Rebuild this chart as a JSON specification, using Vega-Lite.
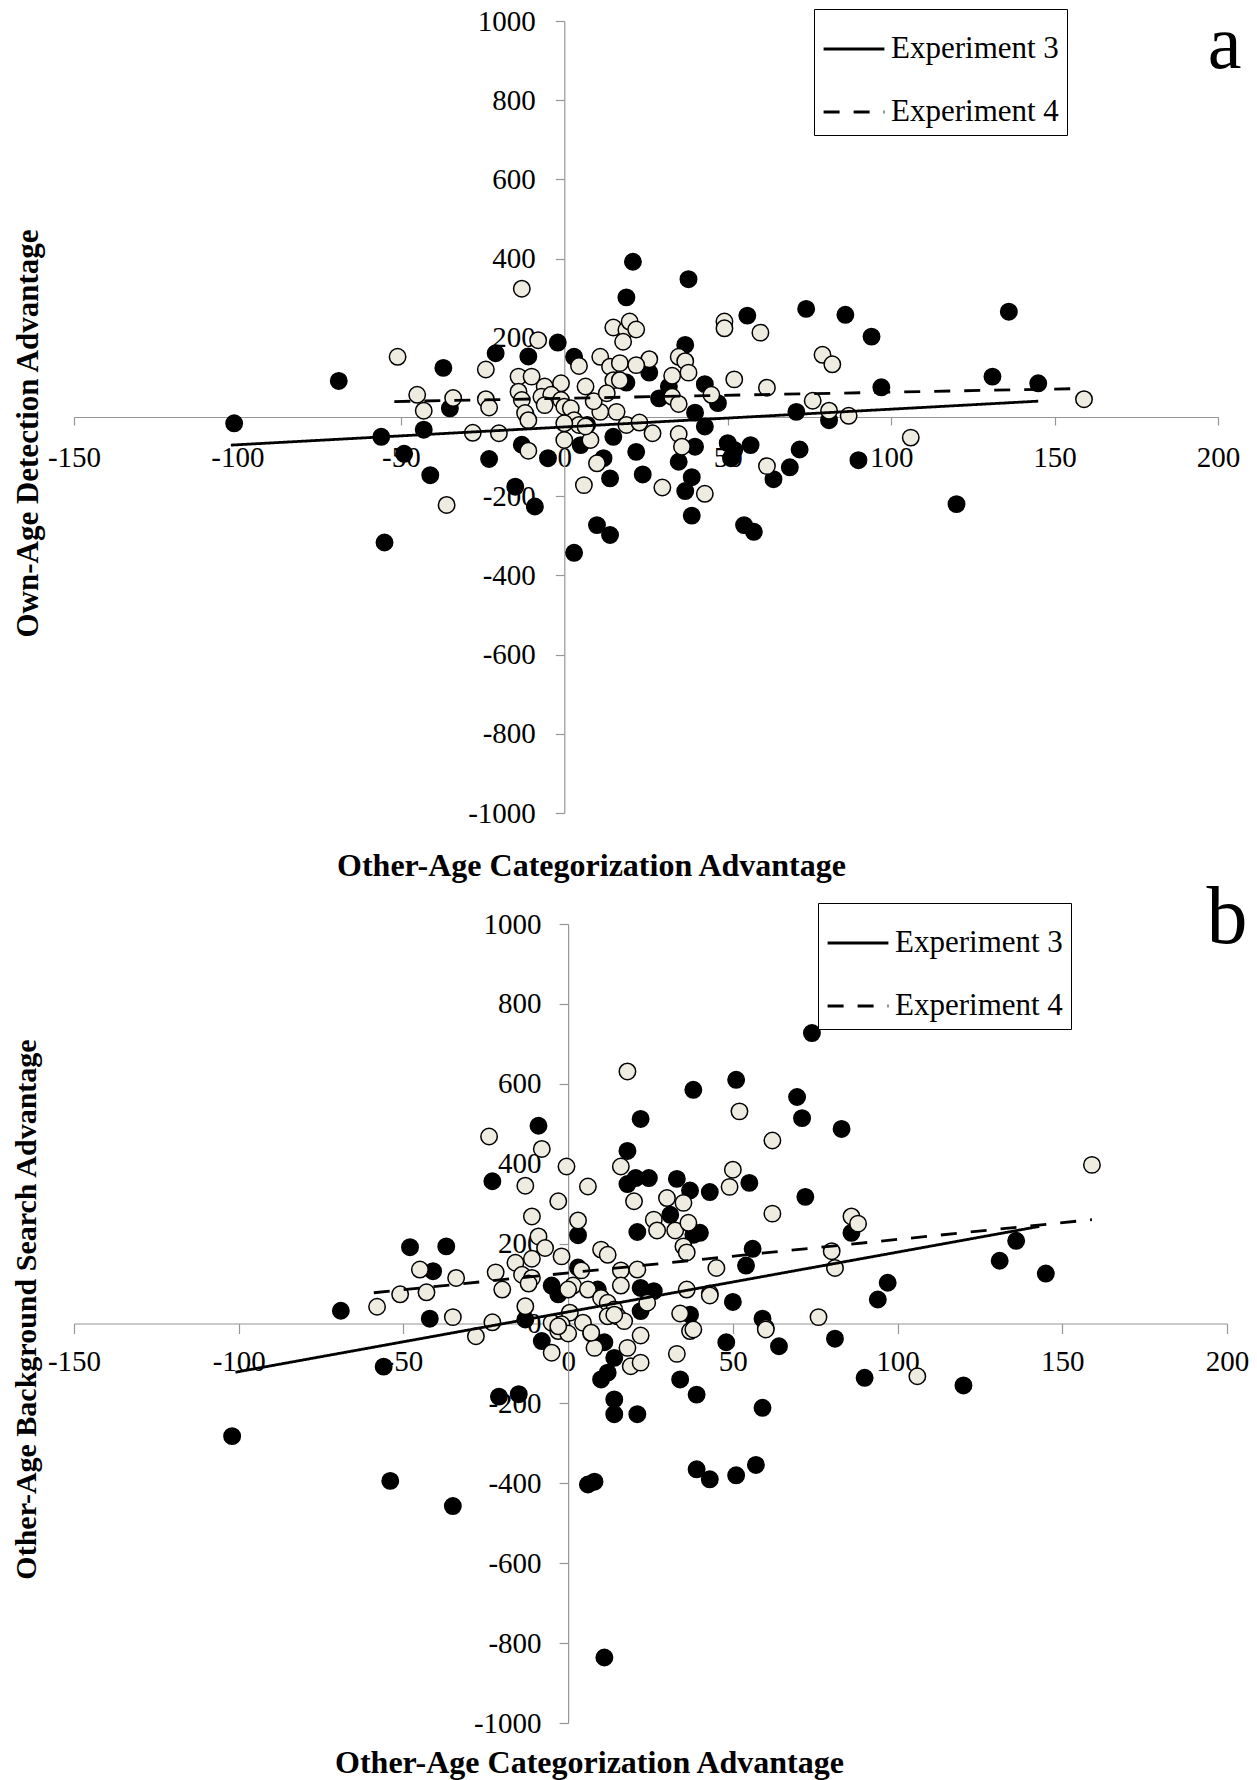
{
  "$schema": "https://vega.github.io/schema/vega-lite/v6.json",
  "autosize": "none",
  "padding": {"left": 74, "top": 21, "right": 1183, "bottom": 1759},
  "background": "white",
  "bounds": "flush",
  "spacing": 111,
  "resolve": {"scale": {"strokeDash": "independent"}, "legend": {"strokeDash": "independent"}},
  "config": {
    "view": {"stroke": null},
    "font": "Liberation Serif",
    "axis": {
      "grid": false,
      "domainColor": "#969696",
      "tickColor": "#969696",
      "domainWidth": 1.2,
      "tickWidth": 1.2,
      "labelColor": "black",
      "titleColor": "black",
      "labelFont": "Liberation Serif",
      "titleFont": "Liberation Serif",
      "labelFontSize": 29,
      "titleFontSize": 32,
      "titleFontWeight": "bold",
      "labelOverlap": false,
      "labelFlush": false,
      "labelExpr": "'' + datum.value"
    },
    "legend": {
      "orient": "none",
      "title": null,
      "labelFont": "Liberation Serif",
      "labelFontSize": 31,
      "labelColor": "black",
      "labelOffset": 5,
      "labelLimit": 0,
      "symbolType": "stroke",
      "symbolSize": 3700,
      "symbolStrokeWidth": 3,
      "symbolStrokeColor": "black",
      "strokeColor": "black",
      "fillColor": "white",
      "padding": 8,
      "rowPadding": 16
    }
  },
  "datasets": {
    "pointsA": [
      {"e":3,"x":-101,"y":-16},{"e":3,"x":-69,"y":91},{"e":3,"x":-37,"y":124},{"e":3,"x":-21,"y":161},{"e":3,"x":-11,"y":153},{"e":3,"x":-2,"y":188},{"e":3,"x":-35,"y":22},{"e":3,"x":-56,"y":-50},{"e":3,"x":-43,"y":-32},{"e":3,"x":-13,"y":-70},{"e":3,"x":-5,"y":-104},{"e":3,"x":-23,"y":-106},{"e":3,"x":-49,"y":-93},{"e":3,"x":-41,"y":-147},{"e":3,"x":-15,"y":-176},{"e":3,"x":-9,"y":-226},{"e":3,"x":-55,"y":-317},{"e":3,"x":3,"y":-343},{"e":3,"x":10,"y":-273},{"e":3,"x":14,"y":-298},{"e":3,"x":5,"y":-71},{"e":3,"x":14,"y":-155},{"e":3,"x":12,"y":-104},{"e":3,"x":3,"y":152},{"e":3,"x":19,"y":302},{"e":3,"x":21,"y":392},{"e":3,"x":38,"y":348},{"e":3,"x":56,"y":256},{"e":3,"x":74,"y":273},{"e":3,"x":86,"y":258},{"e":3,"x":94,"y":203},{"e":3,"x":37,"y":182},{"e":3,"x":26,"y":112},{"e":3,"x":19,"y":87},{"e":3,"x":32,"y":77},{"e":3,"x":29,"y":47},{"e":3,"x":43,"y":83},{"e":3,"x":47,"y":35},{"e":3,"x":71,"y":13},{"e":3,"x":81,"y":-8},{"e":3,"x":97,"y":75},{"e":3,"x":90,"y":-109},{"e":3,"x":40,"y":11},{"e":3,"x":43,"y":-24},{"e":3,"x":22,"y":-88},{"e":3,"x":24,"y":-145},{"e":3,"x":37,"y":-187},{"e":3,"x":39,"y":-152},{"e":3,"x":39,"y":-249},{"e":3,"x":40,"y":-75},{"e":3,"x":35,"y":-113},{"e":3,"x":50,"y":-66},{"e":3,"x":52,"y":-83},{"e":3,"x":57,"y":-71},{"e":3,"x":51,"y":-104},{"e":3,"x":64,"y":-157},{"e":3,"x":69,"y":-127},{"e":3,"x":72,"y":-82},{"e":3,"x":55,"y":-273},{"e":3,"x":58,"y":-290},{"e":3,"x":136,"y":266},{"e":3,"x":131,"y":102},{"e":3,"x":145,"y":85},{"e":3,"x":120,"y":-220},{"e":3,"x":15,"y":-50},{"e":3,"x":7,"y":-20},
      {"e":4,"x":-51,"y":152},{"e":4,"x":-24,"y":120},{"e":4,"x":-13,"y":324},{"e":4,"x":-8,"y":194},{"e":4,"x":-45,"y":56},{"e":4,"x":-43,"y":16},{"e":4,"x":-34,"y":48},{"e":4,"x":-24,"y":45},{"e":4,"x":-23,"y":24},{"e":4,"x":-28,"y":-40},{"e":4,"x":-20,"y":-41},{"e":4,"x":-11,"y":-85},{"e":4,"x":-36,"y":-222},{"e":4,"x":6,"y":-172},{"e":4,"x":0,"y":-58},{"e":4,"x":8,"y":-58},{"e":4,"x":10,"y":-117},{"e":4,"x":-14,"y":102},{"e":4,"x":-10,"y":102},{"e":4,"x":-14,"y":64},{"e":4,"x":-13,"y":43},{"e":4,"x":-12,"y":10},{"e":4,"x":-11,"y":-8},{"e":4,"x":-6,"y":77},{"e":4,"x":-1,"y":85},{"e":4,"x":-7,"y":51},{"e":4,"x":-4,"y":56},{"e":4,"x":-6,"y":30},{"e":4,"x":-1,"y":43},{"e":4,"x":0,"y":26},{"e":4,"x":2,"y":22},{"e":4,"x":3,"y":-8},{"e":4,"x":4.5,"y":-20},{"e":4,"x":6.5,"y":-24},{"e":4,"x":0,"y":-16},{"e":4,"x":4.5,"y":129},{"e":4,"x":6.5,"y":77},{"e":4,"x":11,"y":152},{"e":4,"x":15,"y":226},{"e":4,"x":19,"y":220},{"e":4,"x":18,"y":190},{"e":4,"x":14,"y":127},{"e":4,"x":17,"y":136},{"e":4,"x":15,"y":93},{"e":4,"x":17,"y":93},{"e":4,"x":16,"y":13},{"e":4,"x":11,"y":13},{"e":4,"x":19,"y":-20},{"e":4,"x":20,"y":241},{"e":4,"x":22,"y":221},{"e":4,"x":49,"y":241},{"e":4,"x":49,"y":224},{"e":4,"x":60,"y":213},{"e":4,"x":79,"y":157},{"e":4,"x":82,"y":133},{"e":4,"x":35,"y":152},{"e":4,"x":37,"y":141},{"e":4,"x":38,"y":112},{"e":4,"x":26,"y":146},{"e":4,"x":22,"y":131},{"e":4,"x":33,"y":104},{"e":4,"x":33,"y":51},{"e":4,"x":35,"y":33},{"e":4,"x":45,"y":56},{"e":4,"x":52,"y":95},{"e":4,"x":62,"y":74},{"e":4,"x":76,"y":41},{"e":4,"x":81,"y":16},{"e":4,"x":87,"y":3},{"e":4,"x":106,"y":-52},{"e":4,"x":23,"y":-14},{"e":4,"x":27,"y":-41},{"e":4,"x":30,"y":-178},{"e":4,"x":43,"y":-194},{"e":4,"x":35,"y":-43},{"e":4,"x":36,"y":-75},{"e":4,"x":62,"y":-124},{"e":4,"x":159,"y":45},{"e":4,"x":9,"y":40},{"e":4,"x":13,"y":60}
    ],
    "linesA": [
      {"exp":"Experiment 3","x":-102,"y":-71},{"exp":"Experiment 3","x":145,"y":40},
      {"exp":"Experiment 4","x":-52,"y":39},{"exp":"Experiment 4","x":159,"y":72}
    ],
    "pointsB": [
      {"e":3,"x":-102,"y":-282},{"e":3,"x":-54,"y":-394},{"e":3,"x":-56,"y":-108},{"e":3,"x":-35,"y":-457},{"e":3,"x":-21,"y":-183},{"e":3,"x":-15,"y":-177},{"e":3,"x":6,"y":-403},{"e":3,"x":8,"y":-396},{"e":3,"x":11,"y":-836},{"e":3,"x":10,"y":-140},{"e":3,"x":12,"y":-123},{"e":3,"x":14,"y":-190},{"e":3,"x":14,"y":-227},{"e":3,"x":21,"y":-227},{"e":3,"x":14,"y":-86},{"e":3,"x":34,"y":-140},{"e":3,"x":39,"y":-178},{"e":3,"x":48,"y":-47},{"e":3,"x":59,"y":-211},{"e":3,"x":39,"y":-365},{"e":3,"x":43,"y":-390},{"e":3,"x":51,"y":-380},{"e":3,"x":57,"y":-354},{"e":3,"x":64,"y":-57},{"e":3,"x":90,"y":-136},{"e":3,"x":120,"y":-155},{"e":3,"x":-8,"y":-44},{"e":3,"x":11,"y":-47},{"e":3,"x":81,"y":-38},{"e":3,"x":-69,"y":32},{"e":3,"x":-48,"y":191},{"e":3,"x":-37,"y":193},{"e":3,"x":-41,"y":131},{"e":3,"x":-42,"y":12},{"e":3,"x":-13,"y":10},{"e":3,"x":-23,"y":356},{"e":3,"x":-9,"y":495},{"e":3,"x":-3,"y":73},{"e":3,"x":-5,"y":95},{"e":3,"x":3,"y":221},{"e":3,"x":3,"y":140},{"e":3,"x":9,"y":85},{"e":3,"x":22,"y":89},{"e":3,"x":26,"y":81},{"e":3,"x":22,"y":31},{"e":3,"x":37,"y":22},{"e":3,"x":18,"y":432},{"e":3,"x":22,"y":512},{"e":3,"x":38,"y":585},{"e":3,"x":18,"y":349},{"e":3,"x":20.5,"y":364},{"e":3,"x":24.5,"y":364},{"e":3,"x":33,"y":362},{"e":3,"x":37,"y":333},{"e":3,"x":31,"y":272},{"e":3,"x":21,"y":229},{"e":3,"x":38,"y":222},{"e":3,"x":74,"y":727},{"e":3,"x":51,"y":610},{"e":3,"x":69.5,"y":567},{"e":3,"x":71,"y":514},{"e":3,"x":83,"y":487},{"e":3,"x":55,"y":352},{"e":3,"x":43,"y":329},{"e":3,"x":72,"y":317},{"e":3,"x":86,"y":227},{"e":3,"x":40,"y":227},{"e":3,"x":56,"y":187},{"e":3,"x":54,"y":145},{"e":3,"x":97,"y":102},{"e":3,"x":94,"y":60},{"e":3,"x":50,"y":54},{"e":3,"x":59,"y":12},{"e":3,"x":136,"y":207},{"e":3,"x":131,"y":157},{"e":3,"x":145,"y":125},
      {"e":4,"x":18,"y":631},{"e":4,"x":-24,"y":468},{"e":4,"x":-8,"y":437},{"e":4,"x":-0.5,"y":393},{"e":4,"x":16,"y":393},{"e":4,"x":-13,"y":345},{"e":4,"x":6,"y":343},{"e":4,"x":-3,"y":306},{"e":4,"x":20,"y":306},{"e":4,"x":30,"y":314},{"e":4,"x":35,"y":302},{"e":4,"x":-11,"y":268},{"e":4,"x":3,"y":258},{"e":4,"x":26,"y":260},{"e":4,"x":27,"y":233},{"e":4,"x":32.5,"y":233},{"e":4,"x":36.5,"y":252},{"e":4,"x":35,"y":193},{"e":4,"x":36,"y":178},{"e":4,"x":-9,"y":218},{"e":4,"x":-7,"y":189},{"e":4,"x":-45,"y":135},{"e":4,"x":-34,"y":114},{"e":4,"x":-51,"y":73},{"e":4,"x":-43,"y":78},{"e":4,"x":-22,"y":128},{"e":4,"x":-20,"y":85},{"e":4,"x":-16,"y":152},{"e":4,"x":-14,"y":122},{"e":4,"x":-11,"y":114},{"e":4,"x":-11,"y":162},{"e":4,"x":-12,"y":100},{"e":4,"x":-2,"y":168},{"e":4,"x":10,"y":185},{"e":4,"x":12,"y":172},{"e":4,"x":4,"y":133},{"e":4,"x":16,"y":133},{"e":4,"x":21,"y":135},{"e":4,"x":1.5,"y":95},{"e":4,"x":0,"y":85},{"e":4,"x":6,"y":85},{"e":4,"x":10,"y":64},{"e":4,"x":12,"y":52},{"e":4,"x":14,"y":35},{"e":4,"x":15,"y":18},{"e":4,"x":17,"y":6},{"e":4,"x":16,"y":95},{"e":4,"x":24,"y":52},{"e":4,"x":36,"y":85},{"e":4,"x":34,"y":25},{"e":4,"x":-13,"y":43},{"e":4,"x":-35,"y":16},{"e":4,"x":-23,"y":3},{"e":4,"x":0.5,"y":27},{"e":4,"x":-5,"y":2},{"e":4,"x":-2,"y":-2},{"e":4,"x":4.5,"y":2},{"e":4,"x":52,"y":531},{"e":4,"x":62,"y":458},{"e":4,"x":50,"y":385},{"e":4,"x":49,"y":342},{"e":4,"x":62,"y":275},{"e":4,"x":86,"y":268},{"e":4,"x":88,"y":250},{"e":4,"x":45,"y":139},{"e":4,"x":80,"y":181},{"e":4,"x":81,"y":139},{"e":4,"x":43,"y":75},{"e":4,"x":60,"y":-11},{"e":4,"x":76,"y":16},{"e":4,"x":159,"y":397},{"e":4,"x":-58,"y":42},{"e":4,"x":-28,"y":-32},{"e":4,"x":-5,"y":-73},{"e":4,"x":-3,"y":-19},{"e":4,"x":0,"y":-25},{"e":4,"x":7,"y":-25},{"e":4,"x":8,"y":-61},{"e":4,"x":19,"y":-107},{"e":4,"x":22,"y":-98},{"e":4,"x":18,"y":-61},{"e":4,"x":22,"y":-30},{"e":4,"x":33,"y":-76},{"e":4,"x":37,"y":-19},{"e":4,"x":60,"y":-15},{"e":4,"x":106,"y":-132},{"e":4,"x":-3,"y":-7},{"e":4,"x":7,"y":-23},{"e":4,"x":12,"y":18},{"e":4,"x":14,"y":22},{"e":4,"x":38,"y":-15},{"e":4,"x":43,"y":70}
    ],
    "linesB": [
      {"exp":"Experiment 3","x":-101,"y":-122},{"exp":"Experiment 3","x":143,"y":243},
      {"exp":"Experiment 4","x":-59,"y":77},{"exp":"Experiment 4","x":159,"y":260}
    ],
    "tagA": [{"x":202,"y":881,"t":"a"}],
    "tagB": [{"x":200,"y":952,"t":"b"}]
  },
  "vconcat": [
    {
      "width": 1144,
      "height": 792,
      "layer": [
        {
          "data": {"name": "pointsA"},
          "mark": {"type": "point", "shape": "circle", "filled": true, "size": 270, "stroke": "black", "strokeWidth": 1.5, "opacity": 1},
          "encoding": {
            "x": {"field": "x", "type": "quantitative",
              "scale": {"domain": [-150, 200], "nice": false, "zero": false},
              "axis": {"values": [-150, -100, -50, 0, 50, 100, 150, 200], "offset": -396, "tickSize": 8, "labelBaseline": "middle", "labelPadding": 32,
                "title": "Other-Age Categorization Advantage", "titleX": 517, "titleY": 458, "titleBaseline": "alphabetic", "titleAlign": "center"}},
            "y": {"field": "y", "type": "quantitative",
              "scale": {"domain": [-1000, 1000], "nice": false, "zero": false},
              "axis": {"values": [-1000, -800, -600, -400, -200, 0, 200, 400, 600, 800, 1000], "offset": -490.3, "tickSize": 9, "labelPadding": 20,
                "title": "Own-Age Detection Advantage", "titleX": -536, "titleY": 412, "titleAngle": 270, "titleBaseline": "middle", "titleAlign": "center", "titleFontSize": 31}},
            "fill": {"field": "e", "type": "nominal", "scale": {"domain": [3, 4], "range": ["black", "#EEECE1"]}, "legend": null}
          }
        },
        {
          "data": {"name": "linesA"},
          "mark": {"type": "line", "color": "black", "strokeWidth": 2.8},
          "encoding": {
            "x": {"field": "x", "type": "quantitative", "scale": {"domain": [-150, 200], "nice": false, "zero": false}},
            "y": {"field": "y", "type": "quantitative", "scale": {"domain": [-1000, 1000], "nice": false, "zero": false}},
            "strokeDash": {"field": "exp", "type": "nominal",
              "scale": {"domain": ["Experiment 3", "Experiment 4"], "range": [[1, 0], [16, 14]]},
              "legend": {"legendX": 740, "legendY": -12}}
          }
        },
        {
          "data": {"name": "tagA"},
          "mark": {"type": "text", "fontSize": 76, "font": "Liberation Serif", "align": "center", "baseline": "alphabetic", "color": "black"},
          "encoding": {
            "x": {"field": "x", "type": "quantitative", "scale": {"domain": [-150, 200], "nice": false, "zero": false}},
            "y": {"field": "y", "type": "quantitative", "scale": {"domain": [-1000, 1000], "nice": false, "zero": false}},
            "text": {"field": "t"}
          }
        }
      ]
    },
    {
      "width": 1153,
      "height": 799,
      "layer": [
        {
          "data": {"name": "pointsB"},
          "mark": {"type": "point", "shape": "circle", "filled": true, "size": 270, "stroke": "black", "strokeWidth": 1.5, "opacity": 1},
          "encoding": {
            "x": {"field": "x", "type": "quantitative",
              "scale": {"domain": [-150, 200], "nice": false, "zero": false},
              "axis": {"values": [-150, -100, -50, 0, 50, 100, 150, 200], "offset": -399.5, "tickSize": 10, "labelBaseline": "middle", "labelPadding": 28,
                "title": "Other-Age Categorization Advantage", "titleX": 515, "titleY": 449, "titleBaseline": "alphabetic", "titleAlign": "center"}},
            "y": {"field": "y", "type": "quantitative",
              "scale": {"domain": [-1000, 1000], "nice": false, "zero": false},
              "axis": {"values": [-1000, -800, -600, -400, -200, 0, 200, 400, 600, 800, 1000], "offset": -494.1, "tickSize": 9, "labelPadding": 18,
                "title": "Other-Age Background Search Advantage", "titleX": -542, "titleY": 385, "titleAngle": 270, "titleBaseline": "middle", "titleAlign": "center", "titleFontSize": 30}},
            "fill": {"field": "e", "type": "nominal", "scale": {"domain": [3, 4], "range": ["black", "#EEECE1"]}, "legend": null}
          }
        },
        {
          "data": {"name": "linesB"},
          "mark": {"type": "line", "color": "black", "strokeWidth": 2.8},
          "encoding": {
            "x": {"field": "x", "type": "quantitative", "scale": {"domain": [-150, 200], "nice": false, "zero": false}},
            "y": {"field": "y", "type": "quantitative", "scale": {"domain": [-1000, 1000], "nice": false, "zero": false}},
            "strokeDash": {"field": "exp", "type": "nominal",
              "scale": {"domain": ["Experiment 3", "Experiment 4"], "range": [[1, 0], [16, 14]]},
              "legend": {"legendX": 744, "legendY": -21}}
          }
        },
        {
          "data": {"name": "tagB"},
          "mark": {"type": "text", "fontSize": 82, "font": "Liberation Serif", "align": "center", "baseline": "alphabetic", "color": "black"},
          "encoding": {
            "x": {"field": "x", "type": "quantitative", "scale": {"domain": [-150, 200], "nice": false, "zero": false}},
            "y": {"field": "y", "type": "quantitative", "scale": {"domain": [-1000, 1000], "nice": false, "zero": false}},
            "text": {"field": "t"}
          }
        }
      ]
    }
  ]
}
